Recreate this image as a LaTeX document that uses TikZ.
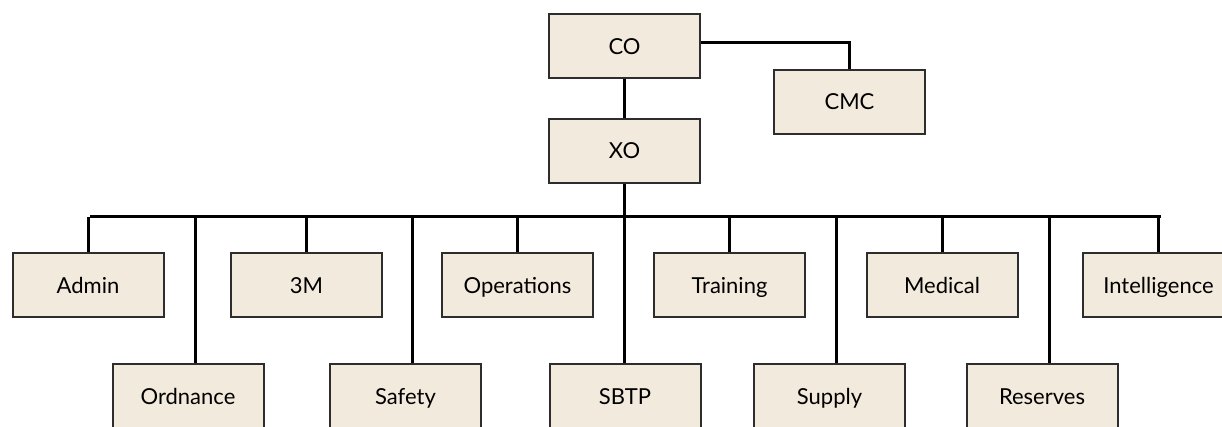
\documentclass[tikz,border=0pt]{standalone}
\usepackage{fontspec}
\setmainfont{Lato}
\usepackage{tikz}
\definecolor{boxfill}{RGB}{242,234,220}
\definecolor{boxline}{RGB}{45,45,45}
\tikzstyle{unit} = [rectangle, minimum width=151pt, minimum height=64pt, inner sep=0pt, text height=16pt, text depth=0pt, text centered, draw=boxline, line width=2pt, fill=boxfill, font=\fontsize{22}{26}\selectfont]
\tikzstyle{link} = [line width=3pt, black]

\begin{document}
\begin{tikzpicture}[x=1pt, y=1pt]
      \useasboundingbox (0,0) rectangle (1222,-426);
      % command
      \node (co)[unit] at (624.5,-46) {CO};
      \node (cmc)[unit] at (849.5,-101.5) {CMC};
      \node (xo)[unit] at (624.5,-150.5) {XO};
      % first row
      \node (admin)[unit] at (88,-285) {Admin};
      \node (threem)[unit] at (306.5,-285) {3M};
      \node (ops)[unit] at (517.5,-285) {Operations};
      \node (train)[unit] at (729.5,-285) {Training};
      \node (med)[unit] at (942,-285) {Medical};
      \node (intel)[unit] at (1158.5,-285) {Intelligence};
      % second row
      \node (ord)[unit] at (188,-396) {Ordnance};
      \node (safety)[unit] at (405.5,-396) {Safety};
      \node (sbtp)[unit] at (625,-396) {SBTP};
      \node (supply)[unit] at (829.5,-396) {Supply};
      \node (res)[unit] at (1042,-396) {Reserves};
      % connectors
      \draw [link]([yshift=4pt]co.east) -| (cmc.north);
      \draw [link](co)--(xo);
      \draw [link](xo.south) -- ++(0,-33) coordinate (bus);
      \draw [link]([xshift=2pt]admin.north |- bus) -- ([xshift=2.5pt]intel.north |- bus);
      \foreach \n in {admin,threem,ops,train,med,intel}
        \draw [link](\n.north) -- (\n.north |- bus);
      \foreach \n in {ord,safety,supply,res}
        \draw [link]([xshift=7pt]\n.north) -- ([xshift=7pt]\n.north |- bus);
      \draw [link](bus) -- (sbtp.north -| bus);
    \end{tikzpicture}
\end{document}
